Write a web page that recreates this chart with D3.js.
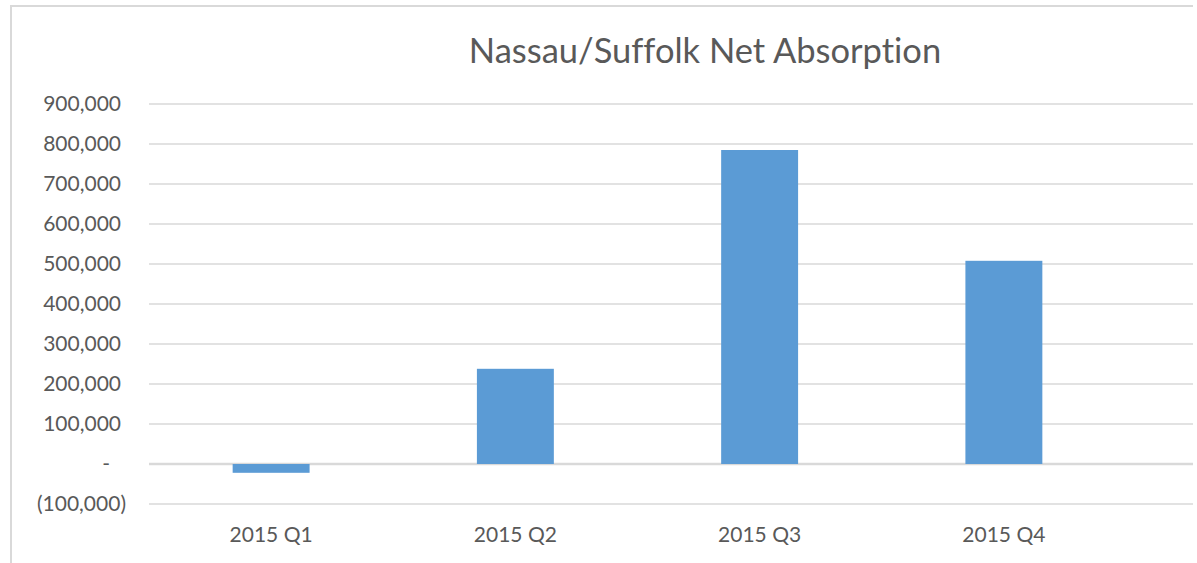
<!DOCTYPE html>
<html>
<head>
<meta charset="utf-8">
<script src="https://cdn.jsdelivr.net/npm/d3@7"></script>
<style>
  body { margin: 0; background: #fff; }
  text { font-family: Lato, "Open Sans", sans-serif; fill: #595959; font-variant-ligatures: none; font-feature-settings: "liga" 0, "dlig" 0; }
</style>
</head>
<body>
<div id="chart"></div>
<script>
// data
const quarters = ['2015 Q1', '2015 Q2', '2015 Q3', '2015 Q4']
const absorption = [-22000, 238000, 785000, 508000]
const yTicks = [-100000, 0, 100000, 200000, 300000, 400000, 500000, 600000, 700000, 800000, 900000]
const title = 'Nassau/Suffolk Net Absorption'

const W = 1197, H = 563
const plot = {left: 149, right: 1193, top: 104, bottom: 504}

const svg = d3.select('#chart').append('svg')
    .attr('width', W)
    .attr('height', H)

// chart frame (only left and top edges show in the crop)
svg.append('path')
    .attr('d', `M11,${H} L11,6 L1193,6`)
    .attr('fill', 'none')
    .attr('stroke', '#d9d9d9')
    .attr('stroke-width', 2)

let x = d3.scaleBand().domain(quarters).range([plot.left, 1126]).paddingInner(0.685).paddingOuter(0.3425)
let y = d3.scaleLinear().domain([-100000, 900000]).range([plot.bottom, plot.top])

// gridlines
svg.append('g').selectAll('line')
    .data(yTicks)
    .enter().append('line')
    .attr('x1', plot.left)
    .attr('x2', plot.right)
    .attr('y1', d => y(d))
    .attr('y2', d => y(d))
    .attr('stroke', '#d9d9d9')
    .attr('stroke-width', d => d === 0 ? 2.5 : 1.5)

const fmt = d3.format(',')
const tickLabel = d => d === 0 ? '-' : d < 0 ? '(' + fmt(-d) + ')' : fmt(d)

svg.append('g').selectAll('text')
    .data(yTicks)
    .enter().append('text')
    .attr('x', d => d === 0 ? 110 : d < 0 ? 126 : 121)
    .attr('y', d => y(d))
    .attr('dy', '0.35em')
    .attr('text-anchor', 'end')
    .style('font-size', '21px')
    .text(tickLabel)

// bars
svg.append('g').selectAll('rect')
    .data(absorption)
    .enter().append('rect')
    .attr('x', (d, i) => x(quarters[i]))
    .attr('width', x.bandwidth())
    .attr('y', d => y(Math.max(0, d)))
    .attr('height', d => Math.abs(y(d) - y(0)))
    .attr('fill', '#5b9bd5')

// category labels
svg.append('g').selectAll('text')
    .data(quarters)
    .enter().append('text')
    .attr('x', d => x(d) + x.bandwidth() / 2)
    .attr('y', 542)
    .attr('text-anchor', 'middle')
    .style('font-size', '21px')
    .text(d => d)

svg.append('text')
    .attr('x', 705)
    .attr('y', 63)
    .attr('text-anchor', 'middle')
    .style('font-size', '34.5px')
    .text(title)
</script>
</body>
</html>
